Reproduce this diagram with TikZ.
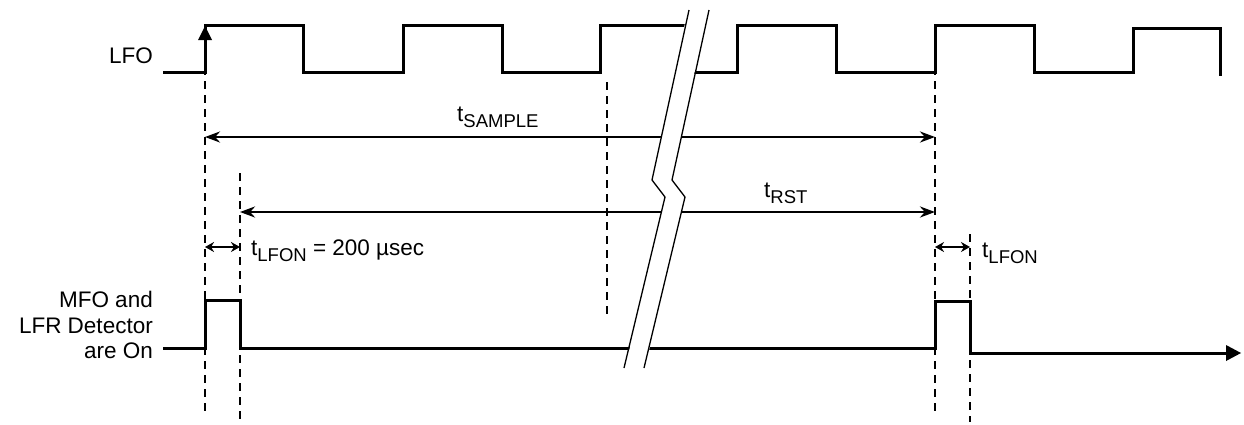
\documentclass[tikz,border=0pt]{standalone}
\usepackage{fontspec}
\setmainfont{Liberation Sans}
\usetikzlibrary{arrows.meta}
\newcommand\lsub[1]{\raisebox{-0.28em}{\fontsize{18.5}{18.5}\selectfont #1}}
\begin{document}
\begin{tikzpicture}[x=1pt,y=-1pt,
  sig/.style={line width=3pt},
  dim/.style={line width=2.5pt,{Stealth[length=15pt,width=11pt]}-{Stealth[length=15pt,width=11pt]}},
  dimsmall/.style={line width=2.2pt,{Stealth[length=9pt,width=10pt]}-{Stealth[length=9pt,width=10pt]}},
  guide/.style={line width=2.6pt,dash pattern=on 8pt off 6pt},
  lbl/.style={inner sep=0pt,font=\fontsize{22.5}{26}\selectfont},
  brk/.style={line width=1.3pt}]
\useasboundingbox (0,0) rectangle (1244,424);
% named guide coordinates
\coordinate (g1t) at (205,25);  \coordinate (g1b) at (205,412);
\coordinate (g2t) at (240,173); \coordinate (g2b) at (240,424);
\coordinate (g3t) at (607,82);  \coordinate (g3b) at (607,318);
\coordinate (g4t) at (935,25);  \coordinate (g4b) at (935,412);
\coordinate (g5t) at (970,234); \coordinate (g5b) at (970,422);
% dashed guides
\draw[guide] (g1t) -- (g1b);
\draw[guide] (g2t) -- (g2b);
\draw[guide] (g3t) -- (g3b);
\draw[guide] (g4t) -- (g4b);
\draw[guide] (g5t) -- (g5b);
% LFO signal
\draw[sig] (163,72) -- (205,72) -- (205,25) -- (303,25) -- (303,72) -- (403,72) -- (403,25)
  -- (502,25) -- (502,72) -- (600,72) -- (600,25) -- (690,25);
\draw[sig] (690,72) -- (737,72) -- (737,25) -- (836,25) -- (836,72) -- (935,72) -- (935,25)
  -- (1034,25) -- (1034,72) -- (1133,72) -- (1133,28) -- (1220,28) -- (1220,76);
\fill (205,26) -- (198,40) -- (212,40) -- cycle;
% dimension arrows
\coordinate (s1) at (205,137); \coordinate (s2) at (935,137);
\coordinate (r1) at (240,212); \coordinate (r2) at (935,212);
\coordinate (l1) at (205,247); \coordinate (l2) at (240,247);
\coordinate (l3) at (935,247); \coordinate (l4) at (970,247);
\draw[dim] (s1) -- (s2);
\draw[dim] (r1) -- (r2);
\draw[dimsmall] (l1) -- (l2);
\draw[dimsmall] (l3) -- (l4);
% MFO signal
\draw[sig] (163,348) -- (205,348) -- (205,300) -- (240,300) -- (240,348) -- (700,348);
\draw[sig] (600,348) -- (935,348) -- (935,301) -- (970,301) -- (970,353) -- (1228,353);
\fill (1241,353) -- (1226,345) -- (1226,361) -- cycle;
% break
\fill[white] (689,4) -- (652,180) -- (665,197) -- (624,372) -- (644,372) -- (685,197) -- (672,180) -- (709,4) -- cycle;
\draw[brk] (689,10) -- (652,180) -- (665,197) -- (624,368);
\draw[brk] (709,10) -- (672,180) -- (685,197) -- (644,368);
% labels
\node[lbl,anchor=base east] (lfo) at (153,63) {LFO};
\node[lbl,anchor=base east] (mfo1) at (153,307) {MFO and};
\node[lbl,anchor=base east] (mfo2) at (153,333) {LFR Detector};
\node[lbl,anchor=base east] (mfo3) at (153,358) {are On};
\node[lbl,anchor=base west] (tsample) at (457,121) {t\lsub{SAMPLE}};
\node[lbl,anchor=base west] (trst) at (764,197) {t\lsub{RST}};
\node[lbl,anchor=base west] (tlfon) at (251,255) {t\lsub{LFON} = 200 µsec};
\node[lbl,anchor=base west] (tlfon2) at (982,257) {t\lsub{LFON}};
\end{tikzpicture}
\end{document}
